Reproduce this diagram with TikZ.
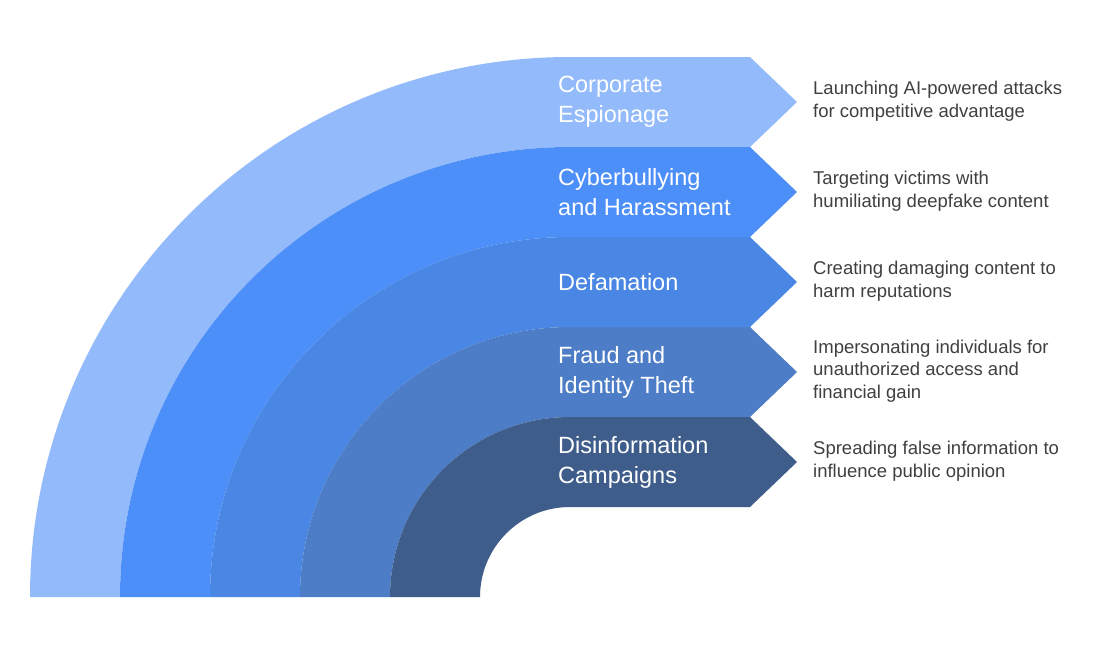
\documentclass[tikz,border=0pt]{standalone}
\usepackage{fontspec}
\setmainfont{Liberation Sans}
\begin{document}
\begin{tikzpicture}[x=1pt,y=-1pt,
  lab/.style={anchor=west,text=white,font=\fontsize{23.5}{30}\selectfont,align=left,inner sep=0},
  desc/.style={anchor=west,text=black!75,font=\fontsize{18.5}{22.5}\selectfont,align=left,inner sep=0}]
\useasboundingbox[fill=white] (0,0) rectangle (1112,659);
\definecolor{c1}{HTML}{93BBFB}
\definecolor{c2}{HTML}{4D8FF8}
\definecolor{c3}{HTML}{4A86E4}
\definecolor{c4}{HTML}{4D7DC6}
\definecolor{c5}{HTML}{3F5D8A}
\foreach \i/\c in {0/c1,1/c2,2/c3,3/c4,4/c5}{
  \pgfmathsetmacro\R{540-90*\i}
  \pgfmathsetmacro\r{\R-90}
  \pgfmathsetmacro\t{57+90*\i}
  \fill[\c] (570-\R,597) arc[start angle=180,end angle=270,radius=\R] -- (750,\t) -- (797,\t+45) -- (750,\t+90) -- (570,\t+90) arc[start angle=270,end angle=180,radius=\r] -- cycle;
}
\node[lab] (l1) at (558,102) {Corporate\\Espionage};
\node[lab] (l2) at (558,192) {Cyberbullying\\and Harassment};
\node[lab] (l3) at (558,282) {Defamation};
\node[lab] (l4) at (558,372) {Fraud and\\Identity Theft};
\node[lab] (l5) at (558,462) {Disinformation\\Campaigns};
\node[desc] (d1) at (813,101) {Launching AI-powered attacks\\for competitive advantage};
\node[desc] (d2) at (813,191) {Targeting victims with\\humiliating deepfake content};
\node[desc] (d3) at (813,281) {Creating damaging content to\\harm reputations};
\node[desc] (d4) at (813,371) {Impersonating individuals for\\unauthorized access and\\financial gain};
\node[desc] (d5) at (813,461) {Spreading false information to\\influence public opinion};
\end{tikzpicture}
\end{document}
